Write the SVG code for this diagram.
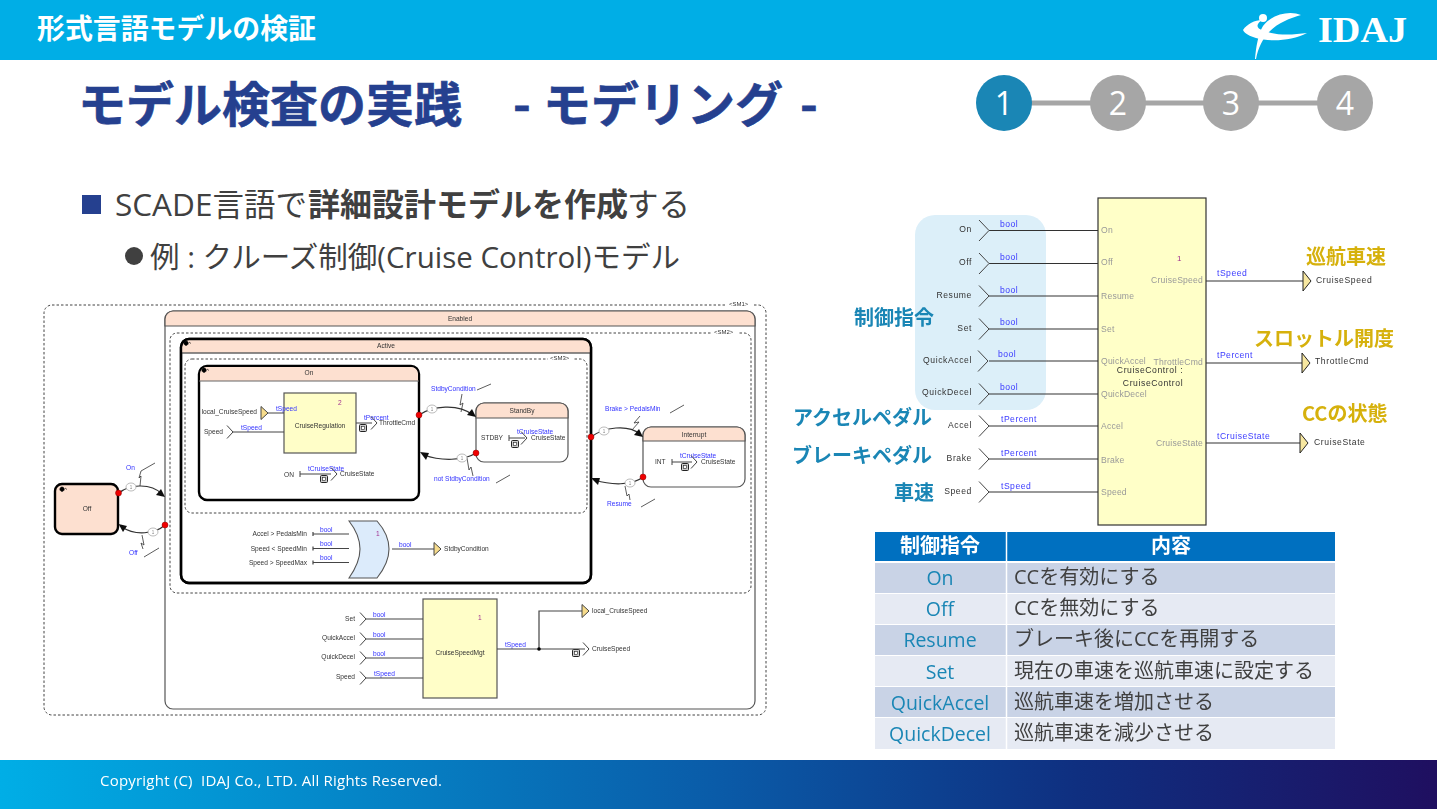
<svg xmlns="http://www.w3.org/2000/svg" width="1437" height="809" viewBox="0 0 1437 809">
<style>
text{font-family:"Liberation Sans",Arial,sans-serif}
.j{font-family:"Open Sans","Noto Sans CJK JP",sans-serif}
.jb{font-family:"Noto Sans CJK JP","Open Sans",sans-serif;font-weight:700}
.t{font-size:6.600px;fill:#333}
.b{font-size:6.600px;fill:#3232ff}
.n{font-size:6.600px;fill:#a03090}
.o{font-size:4.500px;fill:#888;text-anchor:middle}
.m{text-anchor:middle}
.e{text-anchor:end}
.dash{fill:none;stroke:#444;stroke-width:1;stroke-dasharray:2.5 2}
.st{fill:#fff;stroke:#555;stroke-width:1.2}
.stb{fill:#fff;stroke:#000;stroke-width:2.4}
.hd{fill:#fde0d0;stroke:#555;stroke-width:1.2}
.sep{stroke:#666;stroke-width:1.5;fill:none}
.w{fill:none;stroke:#444;stroke-width:1}
.w2{fill:none;stroke:#444;stroke-width:1.2}
.arc{fill:none;stroke:#333;stroke-width:1.2}
.lb{fill:#fffec8;stroke:#555;stroke-width:1.2}
.tri{fill:#f7dc8c;stroke:#444;stroke-width:1}
.red{fill:#f00000;stroke:#800;stroke-width:.5}
.pr{fill:#fff;stroke:#aaa;stroke-width:.8}
.ah{fill:#111}
.rt{font-size:8.600px;fill:#333;letter-spacing:.6px}
.rb{font-size:8.600px;fill:#3a3aff;letter-spacing:.5px}
.rp{font-size:8.600px;fill:#999;letter-spacing:.2px}
.or{font-size:20px;fill:#d6b10c}
.bl{font-size:20px;fill:#1a86b5}
.c1{font-size:20px;fill:#1a86b5;text-anchor:middle}
.c2{font-size:20px;fill:#404040}
.step{font-size:32px;fill:#fff;text-anchor:middle;font-family:"Open Sans",sans-serif}
</style>
<defs>
<filter id="soft" x="-2%" y="-2%" width="104%" height="104%"><feGaussianBlur stdDeviation="0.3"/></filter>
<path id="ch" d="M-6-6.500L0 0L-6 6.500" fill="none" stroke="#444"/>
<path id="chr" d="M-10-10.500L0 0L-10 10.500" fill="none" stroke="#444"/>
<polygon id="tr" class="tri" points="0,-6.500 7,0 0,6.500"/>
<polygon id="trr" points="0,-10 8,0 0,10" fill="#f7e7a0" stroke="#222"/>
<g id="ic"><rect x="-3.500" y="-3.500" width="7" height="7" rx="1" fill="#ccc" stroke="#222"/><rect x="-1.500" y="-1.500" width="3" height="3" fill="#fff" stroke="#222" stroke-width=".6"/></g>
<path id="glyph" d="M0 0a2.200 2.200 0 1 0 .1 0M3 1l2 1.500" fill="#000" stroke="#000" stroke-width=".6"/>
<linearGradient id="ft" x1="0" x2="1" y1="0" y2="0"><stop offset="0" stop-color="#00aee6"/><stop offset=".5" stop-color="#0a5ba8"/><stop offset=".75" stop-color="#0f2f80"/><stop offset="1" stop-color="#1f0f60"/></linearGradient>
</defs>

<g id="header">
<rect width="1437" height="60" fill="#00aee6"/>
<text class="jb" x="37" y="39" font-size="28" fill="#fff" textLength="279" lengthAdjust="spacingAndGlyphs">形式言語モデルの検証</text>
<g id="logo" fill="#fff">
<path d="M1243 30C1247 24 1255 20 1262 20C1256 24 1256 28 1262 30C1275 36 1292 35 1307 33C1292 41 1270 42 1256 38C1250 36 1245 34 1243 30Z"/>
<path d="M1301 15C1290 10 1272 14 1263 26C1258 34 1256 48 1255 59L1256 59C1258 48 1263 38 1270 31C1278 23 1290 18 1301 15Z"/>
<circle cx="1263" cy="18" r="4"/>
<text x="1318" y="42" font-size="36" font-weight="700" textLength="89" lengthAdjust="spacingAndGlyphs" style="font-family:'Liberation Serif',serif">IDAJ</text>
</g>
</g>

<g id="title" fill="#25408f" stroke="#25408f" stroke-width=".6">
<text class="jb" x="78" y="122" font-size="48">モデル検査の実践</text>
<text class="jb" x="513" y="122" font-size="48">-</text>
<text class="jb" x="543" y="122" font-size="48">モデリング</text>
<text class="jb" x="800" y="122" font-size="48">-</text>
</g>

<g id="steps">
<path d="M1004 103H1345" stroke="#a6a6a6" stroke-width="5" fill="none"/>
<circle cx="1004" cy="103" r="28" fill="#1a86b5"/><text class="step" x="1004" y="115">1</text>
<circle cx="1118" cy="103" r="28" fill="#a6a6a6"/><text class="step" x="1118" y="115">2</text>
<circle cx="1231" cy="103" r="28" fill="#a6a6a6"/><text class="step" x="1231" y="115">3</text>
<circle cx="1345" cy="103" r="28" fill="#a6a6a6"/><text class="step" x="1345" y="115">4</text>
</g>

<g id="bullets">
<rect x="82" y="195" width="19" height="19" fill="#25408f"/>
<text class="j" x="115" y="216" font-size="31.500" fill="#404040">SCADE言語で<tspan class="jb" x="308" font-size="32">詳細設計モデルを作成</tspan><tspan x="627">する</tspan></text>
<circle cx="134" cy="256" r="9" fill="#404040"/>
<text class="j" x="150" y="268" font-size="29" fill="#404040" textLength="530" lengthAdjust="spacingAndGlyphs">例 : クルーズ制御(Cruise Control)モデル</text>
</g>

<g id="state-machine" filter="url(#soft)">
<g id="sm1"><rect class="dash" x="44" y="305" width="722" height="410" rx="8"/><rect x="726" y="300" width="26" height="9" fill="#fff"/><text class="t" x="729" y="306" style="font-size:6px">&lt;SM1&gt;</text></g>
<g id="enabled"><rect class="st" x="165" y="311" width="590" height="398" rx="8"/><path class="hd" d="M165 326V319a8 8 0 0 1 8-8H747a8 8 0 0 1 8 8V326Z"/><text class="t m" x="460" y="321">Enabled</text></g>
<g id="sm2"><rect class="dash" x="170" y="333" width="581" height="260" rx="7"/><rect x="712" y="329" width="26" height="9" fill="#fff"/><text class="t" x="714" y="334" style="font-size:6px">&lt;SM2&gt;</text></g>
<g id="active"><rect class="stb" x="181" y="339" width="410" height="244" rx="8"/><path fill="#fde0d0" d="M182 353V347a7 7 0 0 1 7-7H583a7 7 0 0 1 7 7V353Z"/><path class="sep" d="M181 353H591"/><rect class="stb" style="fill:none" x="181" y="339" width="410" height="244" rx="8"/><use href="#glyph" x="186" y="341"/><text class="t m" x="386" y="348">Active</text></g>
<g id="sm3"><rect class="dash" x="185" y="359" width="402" height="154" rx="7"/><rect x="548" y="355" width="26" height="9" fill="#fff"/><text class="t" x="550" y="360" style="font-size:6px">&lt;SM3&gt;</text></g>
<g id="on"><rect class="stb" x="199" y="366" width="220" height="134" rx="8"/><path d="M200 381V374a7 7 0 0 1 7-7H411a7 7 0 0 1 7 7V381Z" fill="#fde0d0"/><path class="sep" d="M199 381H419" style="stroke-width:1"/><use href="#glyph" x="204" y="368"/><text class="t m" x="309" y="375">On</text></g>
<g id="cruise-regulation"><rect class="lb" x="284" y="393" width="72" height="60"/><text class="n" x="338" y="405">2</text><text class="t m" x="320" y="428">CruiseRegulation</text></g>
<g id="on-labels">
<text class="t e" x="257" y="414">local_CruiseSpeed</text><text class="t e" x="223" y="434">Speed</text>
<text class="t" x="284" y="477">ON</text><text class="t" x="340" y="476">CruiseState</text><text class="t" x="379" y="425">ThrottleCmd</text>
<text class="b" x="276" y="411">tSpeed</text><text class="b" x="241" y="430">tSpeed</text><text class="b" x="364" y="420">tPercent</text><text class="b" x="308" y="471">tCruiseState</text>
<use href="#ic" x="363" y="428"/><use href="#ic" x="324" y="479"/></g>
<g id="standby"><rect class="st" x="476" y="403" width="92" height="59" rx="8"/><path class="hd" d="M476 418V411a8 8 0 0 1 8-8H560a8 8 0 0 1 8 8V418Z"/><text class="t m" x="522" y="413">StandBy</text><text class="t" x="481" y="440">STDBY</text><text class="t" x="531" y="440">CruiseState</text><text class="b" x="517" y="434">tCruiseState</text><use href="#ic" x="515" y="444"/></g>
<g id="interrupt"><rect class="st" x="643" y="427" width="102" height="60" rx="8"/><path class="hd" d="M643 441V435a8 8 0 0 1 8-8H737a8 8 0 0 1 8 8V441Z"/><text class="t m" x="694" y="437">Interrupt</text><text class="t" x="655" y="464">INT</text><text class="t" x="701" y="464">CruiseState</text><text class="b" x="680" y="458">tCruiseState</text><use href="#ic" x="685" y="467"/></g>
<g id="off"><rect class="stb" x="55" y="484" width="63" height="50" rx="7" style="fill:#fde0d0"/><use href="#glyph" x="62" y="487"/><text class="t m" x="87" y="511">Off</text></g>
<g id="or-gate"><path d="M349 521H377C385 530 389 540 389 549C389 558 385 568 377 578H349C356 568 360 558 360 549C360 540 356 530 349 521Z" fill="#dcebfb" stroke="#555" stroke-width="1.100"/><text class="n" x="376" y="536">1</text>
<text class="t e" x="307" y="536">Accel &gt; PedalsMin</text><text class="t e" x="307" y="551">Speed &lt; SpeedMin</text><text class="t e" x="307" y="565">Speed &gt; SpeedMax</text>
<text class="b" x="320" y="532">bool</text><text class="b" x="320" y="546">bool</text><text class="b" x="320" y="560">bool</text><text class="b" x="399" y="547">bool</text><text class="t" x="444" y="551">StdbyCondition</text></g>
<g id="cruise-speed-mgt"><rect class="lb" x="423" y="599" width="74" height="99"/><text class="n" x="478" y="620">1</text><text class="t m" x="460" y="655">CruiseSpeedMgt</text>
<text class="t e" x="355" y="621">Set</text><text class="t e" x="355" y="640">QuickAccel</text><text class="t e" x="355" y="659">QuickDecel</text><text class="t e" x="355" y="679">Speed</text>
<text class="b" x="373" y="617">bool</text><text class="b" x="373" y="637">bool</text><text class="b" x="373" y="656">bool</text><text class="b" x="374" y="676">tSpeed</text><text class="b" x="505" y="647">tSpeed</text>
<text class="t" x="592" y="613">local_CruiseSpeed</text><text class="t" x="592" y="651">CruiseSpeed</text><use href="#ic" x="576" y="653"/></g>
<g id="transition-labels">
<text class="b" x="126" y="470">On</text><text class="b" x="129" y="555">Off</text><text class="b" x="431" y="391">StdbyCondition</text><text class="b" x="434" y="481">not StdbyCondition</text><text class="b" x="605" y="411">Brake &gt; PedalsMin</text><text class="b" x="607" y="506">Resume</text>
</g>

<g id="connectors">
<path class="w" d="M268 413H284M233 432H284M356 423H372M300 474H331M300 471V477M509 438H525M509 435V441M672 462H692M672 459V465"/>
<use href="#tr" x="261" y="413"/><use href="#ch" x="233" y="432"/><use href="#ch" x="377" y="423"/><use href="#ch" x="337" y="474"/><use href="#ch" x="527" y="438"/><use href="#ch" x="697" y="462"/>
<path class="w2" d="M313 534H349M313 548.500H349M313 562.500H349M392 549H434M313 532V536M313 546.500V550.500M313 560.500V564.500"/>
<use href="#tr" x="434" y="549"/>
<path class="w2" d="M366 619H423M366 639H423M366 658H423M366 678H423M497 649H585M539 649V611H582"/>
<circle cx="539" cy="649" r="1.800" fill="#000"/>
<use href="#ch" x="366" y="619"/><use href="#ch" x="366" y="639"/><use href="#ch" x="366" y="658"/><use href="#ch" x="366" y="678"/><use href="#tr" x="582" y="611"/><use href="#ch" x="589" y="649"/>
<g id="arcs">
<path class="arc" d="M119 493C128 485 150 482 162 494"/><path class="ah" d="M165 497L156 495L161 489Z"/>
<path class="arc" d="M165 525C155 534 135 536 122 527"/><path class="ah" d="M118.500 524L127 526L123 532Z"/>
<path class="arc" d="M419 415C432 406 458 403 473 415"/><path class="ah" d="M476 417L467 415L472 409Z"/>
<path class="arc" d="M476 453C464 461 440 461 424 455"/><path class="ah" d="M420 452L429 453L426 460Z"/>
<path class="arc" d="M591 437C604 427 628 424 640 434"/><path class="ah" d="M643 437L634 435L639 429Z"/>
<path class="arc" d="M643 477C632 486 610 485 595 480"/><path class="ah" d="M591 478L600 478L598 485Z"/>
</g>
<g id="transition-flashes" fill="none" stroke="#333" stroke-width=".8">
<path d="M155 463L141 471L139 478L141 476L140 486"/><path d="M144 557L159 548M142 535L144 545L141 543L143 549"/>
<path d="M477 390L491 384M462 394L460 405L463 403L461 412"/><path d="M496 483L510 475M467 458L469 470L471 467L473 476"/>
<path d="M670 413L684 405M640 416L634 423L639 422L632 430"/><path d="M641 507L655 499M625 486L627 496L629 494L630 500"/>
</g>
<g class="red">
<circle cx="118.500" cy="493" r="3"/><circle cx="165" cy="525" r="3"/><circle cx="419" cy="415" r="3"/><circle cx="476" cy="453" r="3"/><circle cx="591" cy="437" r="3"/><circle cx="643" cy="477" r="3"/>
</g>
<g class="pr"><ellipse cx="131" cy="487" rx="5" ry="4"/><ellipse cx="153" cy="532" rx="5" ry="4"/><ellipse cx="432" cy="409" rx="5" ry="4"/><ellipse cx="462" cy="458" rx="5" ry="4"/><ellipse cx="604" cy="431" rx="5" ry="4"/><ellipse cx="630" cy="483" rx="5" ry="4"/></g>
<g id="priorities"><text class="o" x="131" y="489">1</text><text class="o" x="153" y="534">1</text><text class="o" x="432" y="411">1</text><text class="o" x="462" y="460">1</text><text class="o" x="604" y="433">1</text><text class="o" x="630" y="485">1</text></g>
</g>
</g>

<g id="control-group"><rect x="915" y="215" width="131" height="195" rx="20" fill="#dceff9"/></g>

<g id="cruise-diagram" filter="url(#soft)">
<g id="cruise-control">
<rect x="1098" y="198" width="108" height="327" fill="#ffffc8" stroke="#333" stroke-width="1.200"/>
<text class="n" style="font-size:8px" x="1177" y="261">1</text>
<text class="rp" x="1101" y="233">On</text><text class="rp" x="1101" y="265">Off</text><text class="rp" x="1101" y="299">Resume</text><text class="rp" x="1101" y="332">Set</text><text class="rp" x="1101" y="364">QuickAccel</text><text class="rp" x="1101" y="397">QuickDecel</text><text class="rp" x="1101" y="429">Accel</text><text class="rp" x="1101" y="463">Brake</text><text class="rp" x="1101" y="495">Speed</text>
<text class="rp e" x="1203" y="283">CruiseSpeed</text><text class="rp e" x="1203" y="365">ThrottleCmd</text><text class="rp e" x="1203" y="446">CruiseState</text>
<text class="rt m" x="1150" y="373">CruiseControl :</text><text class="rt m" x="1153" y="386">CruiseControl</text>
</g>
<g id="wires-right">
<path d="M989 230.500H1098M989 263.500H1098M989 296H1098M989 329H1098M989 361H1098M989 394H1098M989 426H1098M989 459H1098M989 492H1098M1206 281H1303M1206 363H1302M1206 443H1300" fill="none" stroke="#333" stroke-width="1.200"/>
<use href="#chr" x="989" y="230.500"/><use href="#chr" x="989" y="263.500"/><use href="#chr" x="989" y="296"/><use href="#chr" x="989" y="329"/><use href="#chr" x="988" y="361"/><use href="#chr" x="989" y="394"/><use href="#chr" x="989" y="426"/><use href="#chr" x="989" y="459"/><use href="#chr" x="989" y="492"/>
<use href="#trr" x="1303" y="281"/><use href="#trr" x="1302" y="363"/><use href="#trr" x="1300" y="443"/>
</g>
<g id="io-labels">
<text class="rt e" x="972" y="232">On</text><text class="rt e" x="972" y="265">Off</text><text class="rt e" x="972" y="298">Resume</text><text class="rt e" x="972" y="331">Set</text><text class="rt e" x="972" y="363">QuickAccel</text><text class="rt e" x="972" y="395">QuickDecel</text><text class="rt e" x="972" y="428">Accel</text><text class="rt e" x="972" y="461">Brake</text><text class="rt e" x="972" y="494">Speed</text>
<text class="rb" x="1000" y="227">bool</text><text class="rb" x="1000" y="260">bool</text><text class="rb" x="1000" y="293">bool</text><text class="rb" x="1000" y="325">bool</text><text class="rb" x="998" y="357">bool</text><text class="rb" x="1000" y="390">bool</text><text class="rb" x="1001" y="422">tPercent</text><text class="rb" x="1001" y="456">tPercent</text><text class="rb" x="1001" y="489">tSpeed</text>
<text class="rb" x="1217" y="276">tSpeed</text><text class="rb" x="1217" y="358">tPercent</text><text class="rb" x="1217" y="439">tCruiseState</text>
<text class="rt" x="1316" y="283">CruiseSpeed</text><text class="rt" x="1315" y="364">ThrottleCmd</text><text class="rt" x="1314" y="445">CruiseState</text>
</g>
</g>

<g id="callouts">
<text class="jb or" x="1306" y="264">巡航車速</text><text class="jb or" x="1254" y="346">スロットル開度</text><text class="jb or" x="1302" y="421">CCの状態</text>
<text class="jb bl" x="854" y="325">制御指令</text><text class="jb bl" x="793" y="425">アクセルペダル</text><text class="jb bl" x="792" y="463">ブレーキペダル</text><text class="jb bl" x="894" y="500">車速</text>
</g>

<g id="table">
<rect x="875" y="532" width="131" height="29" fill="#0070c0"/><rect x="1007" y="532" width="328" height="29" fill="#0070c0"/>
<text class="jb m" x="940" y="553" font-size="20" fill="#fff">制御指令</text><text class="jb m" x="1171" y="553" font-size="20" fill="#fff">内容</text>
<rect x="875" y="563" width="460" height="30" fill="#c9d3e6"/><rect x="875" y="594" width="460" height="30" fill="#e6eaf3"/><rect x="875" y="625" width="460" height="30" fill="#c9d3e6"/><rect x="875" y="656" width="460" height="30" fill="#e6eaf3"/><rect x="875" y="687" width="460" height="30" fill="#c9d3e6"/><rect x="875" y="718" width="460" height="31" fill="#e6eaf3"/>
<path d="M1006.500 532V749" stroke="#fff" stroke-width="1.500"/>
<text class="j c1" x="940" y="585" style="font-size:19.500px">On</text><text class="j c2" x="1014" y="584">CCを有効にする</text>
<text class="j c1" x="940" y="616" style="font-size:19.500px">Off</text><text class="j c2" x="1014" y="615">CCを無効にする</text>
<text class="j c1" x="940" y="647" style="font-size:19.500px">Resume</text><text class="j c2" x="1014" y="646">ブレーキ後にCCを再開する</text>
<text class="j c1" x="940" y="679" style="font-size:19.500px">Set</text><text class="j c2" x="1014" y="678">現在の車速を巡航車速に設定する</text>
<text class="j c1" x="940" y="710" style="font-size:19.500px">QuickAccel</text><text class="j c2" x="1014" y="709">巡航車速を増加させる</text>
<text class="j c1" x="940" y="741" style="font-size:19.500px">QuickDecel</text><text class="j c2" x="1014" y="740">巡航車速を減少させる</text>
</g>

<g id="footer">
<rect y="760" width="1437" height="49" fill="url(#ft)"/>
<text class="j" x="100" y="786" font-size="15" fill="#fff" textLength="342" style="white-space:pre">Copyright (C)  IDAJ Co., LTD. All Rights Reserved.</text>
</g>
</svg>
